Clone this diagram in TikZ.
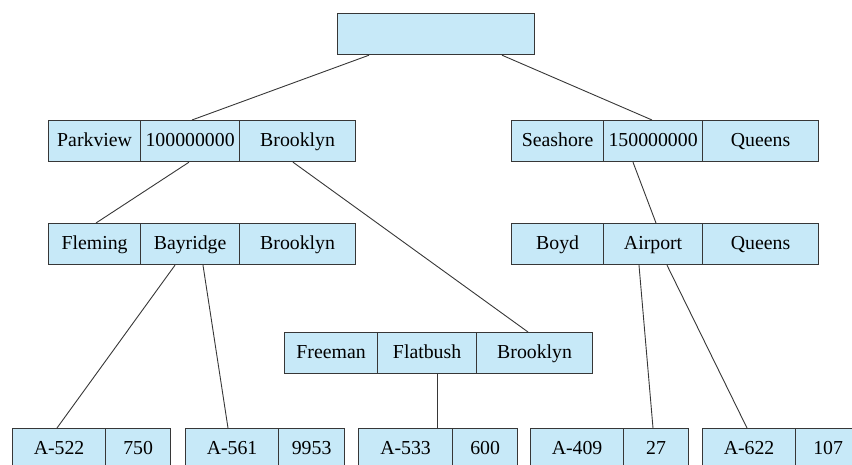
\documentclass[tikz,border=0pt]{standalone}
\usepackage{fontspec}
\setmainfont{Liberation Serif}
\definecolor{cellblue}{RGB}{199,233,248}
\definecolor{edgegray}{RGB}{55,55,55}
\tikzset{
  cell/.style={draw=edgegray, fill=cellblue, line width=1.2pt, inner sep=0pt,
    anchor=north west, minimum height=41pt, text height=15pt, text depth=4pt,
    font=\fontsize{19.8}{23}\selectfont},
  link/.style={draw=edgegray, line width=0.9pt}
}
\begin{document}
\begin{tikzpicture}[x=1pt, y=-1pt]
\useasboundingbox (0,0) rectangle (852,465);
\clip (0,0) rectangle (852,465);

% root
\node[cell, minimum width=197pt] (root) at (337,13) {};

% Parkview record
\node[cell, minimum width=92pt]  (pk1) at (48,120)  {Parkview};
\node[cell, minimum width=99pt]  (pk2) at (140,120) {100000000};
\node[cell, minimum width=116pt] (pk3) at (239,120) {Brooklyn};

% Seashore record
\node[cell, minimum width=92pt]  (se1) at (511,120) {Seashore};
\node[cell, minimum width=99pt]  (se2) at (603,120) {150000000};
\node[cell, minimum width=116pt] (se3) at (702,120) {Queens};

% Fleming record
\node[cell, minimum width=92pt]  (fl1) at (48,223)  {Fleming};
\node[cell, minimum width=99pt]  (fl2) at (140,223) {Bayridge};
\node[cell, minimum width=116pt] (fl3) at (239,223) {Brooklyn};

% Boyd record
\node[cell, minimum width=92pt]  (bo1) at (511,223) {Boyd};
\node[cell, minimum width=99pt]  (bo2) at (603,223) {Airport};
\node[cell, minimum width=116pt] (bo3) at (702,223) {Queens};

% Freeman record
\node[cell, minimum width=93pt]  (fr1) at (284,332) {Freeman};
\node[cell, minimum width=99pt]  (fr2) at (377,332) {Flatbush};
\node[cell, minimum width=116pt] (fr3) at (476,332) {Brooklyn};

% account records
\node[cell, minimum width=93pt] (a522) at (12,428)  {A-522};
\node[cell, minimum width=65pt] (b750) at (105,428) {750};
\node[cell, minimum width=93pt] (a561) at (185,428) {A-561};
\node[cell, minimum width=66pt] (b9953) at (278,428) {9953};
\node[cell, minimum width=94pt] (a533) at (358,428) {A-533};
\node[cell, minimum width=65pt] (b600) at (452,428) {600};
\node[cell, minimum width=93pt] (a409) at (530,428) {A-409};
\node[cell, minimum width=65pt] (b27)  at (623,428) {27};
\node[cell, minimum width=93pt] (a622) at (702,428) {A-622};
\node[cell, minimum width=65pt] (b107) at (795,428) {107};

% connectors
\path[link] ([xshift=32pt]root.south west) -- ([xshift=52pt]pk2.north west);
\path[link] ([xshift=165pt]root.south west) -- ([xshift=49pt]se2.north west);
\path[link] ([xshift=49pt]pk2.south west) -- ([xshift=48pt]fl1.north west);
\path[link] ([xshift=54pt]pk3.south west) -- ([xshift=52pt]fr3.north west);
\path[link] ([xshift=30pt]se2.south west) -- ([xshift=53pt]bo2.north west);
\path[link] ([xshift=35pt]fl2.south west) -- ([xshift=45pt]a522.north west);
\path[link] ([xshift=63pt]fl2.south west) -- ([xshift=43pt]a561.north west);
\path[link] ([xshift=60pt]fr2.south west) -- ([xshift=79pt]a533.north west);
\path[link] ([xshift=36pt]bo2.south west) -- ([xshift=30pt]b27.north west);
\path[link] ([xshift=64pt]bo2.south west) -- ([xshift=45pt]a622.north west);
\end{tikzpicture}
\end{document}
